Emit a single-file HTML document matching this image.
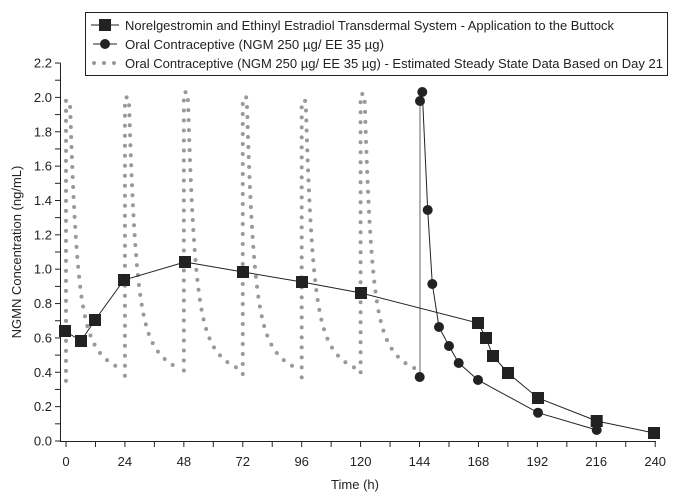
<!DOCTYPE html>
<html><head><meta charset="utf-8"><style>
body{margin:0;background:#fff}
svg{display:block;font-family:"Liberation Sans",Arial,sans-serif}
</style></head><body>
<svg id="s" width="680" height="499" viewBox="0 0 680 499" xmlns="http://www.w3.org/2000/svg">
<rect width="680" height="499" fill="#fff"/>
<g id="dots"></g>
<g id="axes" stroke="#222" stroke-width="1" fill="none"></g>
<g id="lbl" font-size="13" fill="#222"></g>
<text x="355" y="489" font-size="13" fill="#222" text-anchor="middle">Time (h)</text>
<text transform="translate(21,252) rotate(-90)" font-size="13" fill="#222" text-anchor="middle">NGMN Concentration (ng/mL)</text>
<g id="ser"></g>
<rect x="85.5" y="12.5" width="582" height="63" fill="#fff" stroke="#222"/>
<line x1="91" y1="25" x2="119" y2="25" stroke="#222"/><rect x="99" y="19" width="12" height="12" fill="#222"/>
<line x1="93" y1="44" x2="117" y2="44" stroke="#222"/><circle cx="105" cy="44" r="5" fill="#222"/>
<line x1="94" y1="63" x2="118" y2="63" stroke="#999" stroke-width="4" stroke-dasharray="0 10" stroke-linecap="round"/>
<g font-size="13" fill="#222">
<text x="125" y="30" textLength="489" lengthAdjust="spacingAndGlyphs">Norelgestromin and Ethinyl Estradiol Transdermal System - Application to the Buttock</text>
<text x="125" y="49" textLength="259" lengthAdjust="spacingAndGlyphs">Oral Contraceptive (NGM 250 µg/ EE 35 µg)</text>
<text x="125" y="68" textLength="538" lengthAdjust="spacingAndGlyphs">Oral Contraceptive (NGM 250 µg/ EE 35 µg) - Estimated Steady State Data Based on Day 21</text>
</g>
</svg>
<script>
const NS="http://www.w3.org/2000/svg";
const X=t=>66+t*2.455, Y=v=>441-v*171.8;
function el(p,tag,a,txt){const e=document.createElementNS(NS,tag);for(const k in a)e.setAttribute(k,a[k]);if(txt!==undefined)e.textContent=txt;document.getElementById(p).appendChild(e);return e;}
// axes
el("axes","line",{x1:60.5,y1:63,x2:60.5,y2:441.5});
el("axes","line",{x1:60,y1:441.5,x2:656,y2:441.5});
for(let i=0;i<=22;i++){const y=Y(i*0.1);el("axes","line",{x1:55,y1:y,x2:60.5,y2:y});
 if(i%2==0)el("lbl","text",{x:52,y:y+4.5,"text-anchor":"end"},(i*0.1).toFixed(1));}
for(let t=0;t<=240;t+=12){const x=X(t);el("axes","line",{x1:x,y1:441.5,x2:x,y2:447});
 if(t%24==0)el("lbl","text",{x:x,y:466,"text-anchor":"middle"},String(t));}
// dotted
let d="";
const peaks=[1.98,2.0,2.03,2.0,1.98,2.02],lows=[0.35,0.38,0.41,0.39,0.37,0.40];
for(let k=0;k<6;k++){const t0=24*k;
 d+=`M${X(t0)},${Y(lows[k])}V${Y(peaks[k])}`;
 for(let s=0.5;s<=(k==5?22:22.5);s+=0.25){const v=0.36+ (peaks[k]-1.15)*1.9*Math.exp(-s/2.5)*0+1.6*Math.exp(-s/2.5)*(peaks[k]/2)+0.55*Math.exp(-s/10);
  d+=`L${X(t0+0.8+s*0.98)},${Y(Math.min(v,peaks[k]))}`;}
}
el("dots","path",{d:d,fill:"none",stroke:"#999","stroke-width":4,"stroke-dasharray":"0 10","stroke-linecap":"round"});
// oral contraceptive
el("ser","line",{x1:420,y1:377,x2:420,y2:101,stroke:"#999","stroke-width":1.5});
const circ=[[420,101],[422.3,92],[427.7,210],[432.3,284],[439,327],[449,346],[458.7,363],[478,380],[538,412.7],[596.7,430]];
el("ser","polyline",{points:circ.map(p=>p.join(",")).join(" "),fill:"none",stroke:"#222"});
[[419.7,377]].concat(circ).forEach(p=>el("ser","circle",{cx:p[0],cy:p[1],r:5,fill:"#222"}));
// patch
const sq=[[65,331],[81,341],[95,320],[124,280],[185,262],[243,272],[302,282],[361,293],[478,323],[486,338],[493,356],[508,373],[538,398],[596.7,421],[654,433]];
el("ser","polyline",{points:sq.map(p=>p.join(",")).join(" "),fill:"none",stroke:"#222"});
sq.forEach(p=>el("ser","rect",{x:p[0]-6,y:p[1]-6,width:12,height:12,fill:"#222"}));
</script>
</body></html>
